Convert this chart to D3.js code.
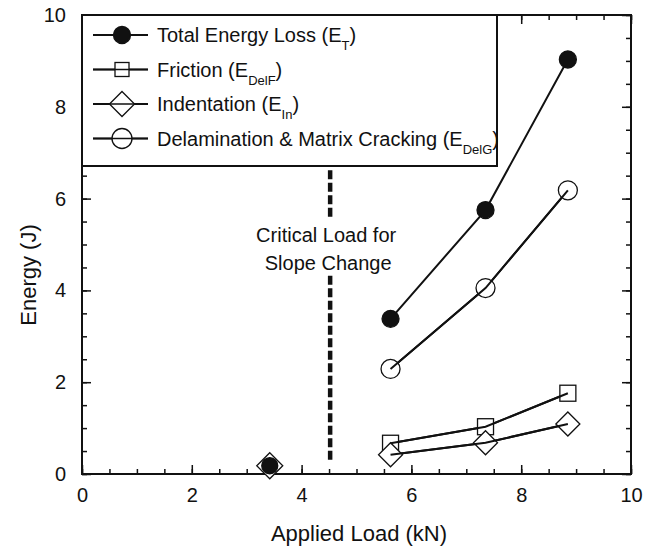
<!DOCTYPE html>
<html>
<head>
<meta charset="utf-8">
<script src="https://cdn.jsdelivr.net/npm/d3@7"></script>
<style>
  body { margin: 0; background: #fff; }
  svg { display: block; font-family: "Liberation Sans", Arial, sans-serif; }
</style>
</head>
<body>
<div id="chart"></div>
<script>
// applied load (kN) above the critical load
const loads = [5.62, 7.35, 8.85]
const totalLoss = [3.38, 5.75, 9.03]
const friction = [0.67, 1.03, 1.76]
const indentation = [0.42, 0.68, 1.09]
const delamination = [2.29, 4.05, 6.18]

// single test below the critical load
const lowLoad = [3.42]
const lowTotal = [0.18]
const lowIndent = [0.18]

const criticalLoad = 4.52
const xTicks = [0, 2, 4, 6, 8, 10]
const yTicks = [0, 2, 4, 6, 8, 10]
const minorTicks = d3.range(0, 10.01, 0.5)

const legendItems = [
    { label: 'Total Energy Loss (E', sub: 'T', shape: 'filled' },
    { label: 'Friction (E', sub: 'DelF', shape: 'square' },
    { label: 'Indentation (E', sub: 'In', shape: 'diamond' },
    { label: 'Delamination & Matrix Cracking (E', sub: 'DelG', shape: 'open' }
]

const width = 651, height = 550
const margin = { top: 15, right: 20, bottom: 76, left: 82 }
const iw = 631 - margin.left, ih = 474 - margin.top

const x = d3.scaleLinear().domain([0, 10]).range([0, iw])
const y = d3.scaleLinear().domain([0, 10]).range([ih, 0])

const svg = d3.select('#chart').append('svg')
    .attr('width', width).attr('height', height)
    .attr('xmlns', 'http://www.w3.org/2000/svg')

const g = svg.append('g').attr('transform', `translate(${margin.left},${margin.top})`)

function styleAxis(sel) {
    sel.select('.domain').remove()
    sel.selectAll('line').attr('stroke', '#111').attr('stroke-width', 1.5)
    sel.selectAll('text').attr('font-size', 20).attr('fill', '#111')
}

// minor ticks on all four sides
g.append('g').attr('transform', `translate(0,${ih})`)
    .call(d3.axisBottom(x).tickValues(minorTicks).tickSize(-5).tickFormat('')).call(styleAxis)
g.append('g')
    .call(d3.axisTop(x).tickValues(minorTicks).tickSize(-5).tickFormat('')).call(styleAxis)
g.append('g')
    .call(d3.axisLeft(y).tickValues(minorTicks).tickSize(-5).tickFormat('')).call(styleAxis)
g.append('g').attr('transform', `translate(${iw},0)`)
    .call(d3.axisRight(y).tickValues(minorTicks).tickSize(-5).tickFormat('')).call(styleAxis)

// major ticks and labels
g.append('g').attr('transform', `translate(0,${ih})`)
    .call(d3.axisBottom(x).tickValues(xTicks).tickSize(-9).tickPadding(14).tickFormat(d3.format('d')))
    .call(styleAxis)
g.append('g')
    .call(d3.axisLeft(y).tickValues(yTicks).tickSize(-9).tickPadding(16).tickFormat(d3.format('d')))
    .call(styleAxis)
g.append('g')
    .call(d3.axisTop(x).tickValues(xTicks).tickSize(-9).tickFormat('')).call(styleAxis)
g.append('g').attr('transform', `translate(${iw},0)`)
    .call(d3.axisRight(y).tickValues(yTicks).tickSize(-9).tickFormat('')).call(styleAxis)

// frame
g.append('rect').attr('width', iw).attr('height', ih)
    .attr('fill', 'none').attr('stroke', '#111').attr('stroke-width', 2)

// axis titles
svg.append('text')
    .attr('x', 359).attr('y', 541)
    .attr('text-anchor', 'middle').attr('font-size', 22).attr('fill', '#111')
    .text('Applied Load (kN)')
svg.append('text')
    .attr('transform', 'translate(36,275) rotate(-90)')
    .attr('text-anchor', 'middle').attr('font-size', 22).attr('fill', '#111')
    .text('Energy (J)')

// critical load marker
const dash = g.append('g').attr('stroke', '#111').attr('stroke-width', 4.5).attr('stroke-dasharray', '9,3.5')
dash.append('line').attr('x1', x(criticalLoad)).attr('x2', x(criticalLoad))
    .attr('y1', y(6.62)).attr('y2', y(5.58))
dash.append('line').attr('x1', x(criticalLoad)).attr('x2', x(criticalLoad))
    .attr('y1', y(4.32)).attr('y2', y(0.26))
const note = g.append('text').attr('text-anchor', 'middle').attr('font-size', 20).attr('fill', '#111')
note.append('tspan').attr('x', x(criticalLoad) - 4).attr('y', 227).text('Critical Load for')
note.append('tspan').attr('x', x(criticalLoad) - 2).attr('y', 255).text('Slope Change')

// markers
function drawMarker(sel, shape, cx, cy, size) {
    if (shape === 'filled' || shape === 'open') {
        sel.append('circle').attr('cx', cx).attr('cy', cy).attr('r', size)
            .attr('fill', shape === 'filled' ? '#111' : '#fff')
            .attr('stroke', '#111').attr('stroke-width', 1.3)
    } else if (shape === 'square') {
        sel.append('rect').attr('x', cx - size).attr('y', cy - size)
            .attr('width', size * 2).attr('height', size * 2)
            .attr('fill', '#fff').attr('stroke', '#111').attr('stroke-width', 1.3)
    } else {
        sel.append('path')
            .attr('d', `M${cx},${cy - size}L${cx + size},${cy}L${cx},${cy + size}L${cx - size},${cy}Z`)
            .attr('fill', '#fff').attr('stroke', '#111').attr('stroke-width', 1.3)
    }
}

const series = [
    { values: delamination, shape: 'open', size: 9.5 },
    { values: totalLoss, shape: 'filled', size: 8.5 },
    { values: friction, shape: 'square', size: 8 },
    { values: indentation, shape: 'diamond', size: 12 }
]

const line = d3.line().x(d => x(d[0])).y(d => y(d[1]))

series.forEach(s => {
    const pts = loads.map((l, i) => [l, s.values[i]])
    g.append('path').datum(pts).attr('d', line)
        .attr('fill', 'none').attr('stroke', '#111').attr('stroke-width', 2)
})
series.forEach(s => {
    const mg = g.append('g')
    loads.forEach((l, i) => drawMarker(mg, s.shape, x(l), y(s.values[i]), s.size))
    // redraw line over open markers so it passes through like the original
})
series.forEach(s => {
    if (s.shape === 'filled') return
    const pts = loads.map((l, i) => [l, s.values[i]])
    g.append('path').datum(pts).attr('d', line)
        .attr('fill', 'none').attr('stroke', '#111').attr('stroke-width', 2)
})

lowLoad.forEach((l, i) => {
    drawMarker(g, 'diamond', x(l), y(lowIndent[i]), 13)
    drawMarker(g, 'filled', x(l), y(lowTotal[i]), 8)
})

// legend
const legend = g.append('g')
legend.append('rect').attr('x', 0).attr('y', 0).attr('width', 415).attr('height', 151)
    .attr('fill', '#fff').attr('stroke', '#111').attr('stroke-width', 2)
const legendSizes = { filled: 8.5, square: 7, diamond: 12.5, open: 10 }
legendItems.forEach((d, i) => {
    const ry = 20 + i * 34.5
    const row = legend.append('g')
    row.append('line').attr('x1', 11).attr('x2', 66).attr('y1', ry).attr('y2', ry)
        .attr('stroke', '#111').attr('stroke-width', 2)
    drawMarker(row, d.shape, 40, ry, legendSizes[d.shape])
    if (d.shape !== 'filled') {
        row.append('line').attr('x1', 11).attr('x2', 66).attr('y1', ry).attr('y2', ry)
            .attr('stroke', '#111').attr('stroke-width', 1.5)
    }
    const t = row.append('text').attr('x', 75).attr('y', ry + 7)
        .attr('font-size', 20).attr('fill', '#111')
    t.append('tspan').text(d.label)
    t.append('tspan').attr('font-size', 13).attr('dy', 8).text(d.sub)
    t.append('tspan').attr('dy', -8).text(')')
})
</script>
</body>
</html>
